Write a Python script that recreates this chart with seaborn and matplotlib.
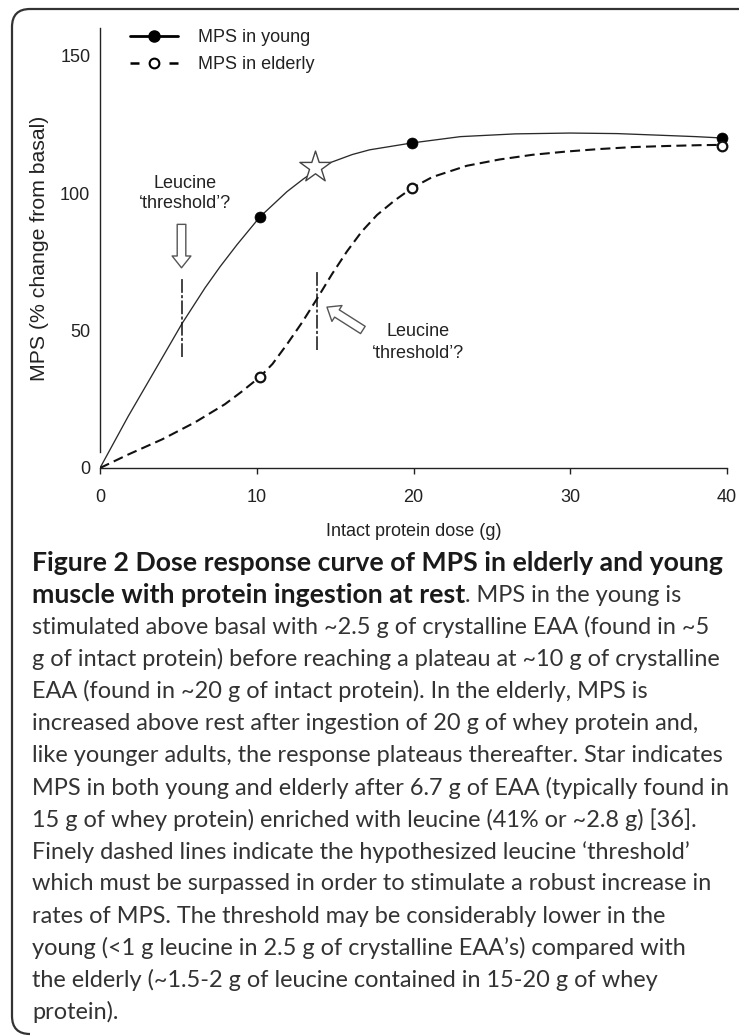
import numpy as np
import pandas as pd
import matplotlib
matplotlib.use("Agg")
import matplotlib.pyplot as plt
import seaborn as sns
from matplotlib.lines import Line2D
from matplotlib.patches import FancyArrowPatch, PathPatch
from matplotlib.path import Path

# ---------------- data ----------------
dose_points = [10.2, 19.9, 39.7]
young_mps = [91.3, 118.2, 120.0]
elderly_mps = [33.1, 101.8, 117.0]

young_curve_x = [0, 1.8, 3.96, 5.23, 6.7, 7.66, 8.74, 10.2, 11.93, 12.95, 13.7, 14.67,
                 16.1, 17.2, 19.9, 23.0, 26.5, 30.0, 33.0, 35.3, 38.0, 39.7]
young_curve_y = [0, 18.8, 40.0, 52.5, 65.5, 73.2, 81.2, 91.3, 100.5, 105.0, 108.0, 111.0,
                 114.0, 115.7, 118.2, 120.5, 121.5, 121.8, 121.6, 121.1, 120.5, 120.0]

elderly_curve_x = [0, 1.8, 3.96, 6.06, 7.97, 9.0, 10.2, 11.0, 11.93, 12.9, 13.84, 14.8,
                   15.76, 16.7, 17.67, 18.8, 19.9, 21.2, 23.4, 25.5, 27.6, 29.8, 31.9,
                   34.0, 36.2, 38.3, 39.7]
elderly_curve_y = [0, 4.9, 10.4, 16.6, 23.2, 27.6, 33.1, 37.8, 45.0, 53.0, 61.5, 70.5,
                   78.8, 86.0, 92.0, 97.3, 101.8, 105.8, 109.9, 112.2, 113.9, 115.1, 116.0,
                   116.7, 117.1, 117.4, 117.5]

star_x, star_y = 13.7, 109.3
young_threshold_x, young_threshold_y = 5.23, (40.5, 69.3)
elderly_threshold_x, elderly_threshold_y = 13.84, (42.9, 71.3)

x_ticks = [0, 10, 20, 30, 40]
y_ticks = [0, 50, 100, 150]
x_label = "Intact protein dose (g)"
y_label = "MPS (% change from basal)"
legend_labels = ["MPS in young", "MPS in elderly"]
annot_text = ["Leucine", "\u2018threshold\u2019?"]

caption_bold_1 = "Figure 2 Dose response curve of MPS in elderly and young"
caption_bold_2 = "muscle with protein ingestion at rest"
caption_rest_2 = ". MPS in the young is"
caption_lines = [
    "stimulated above basal with ~2.5 g of crystalline EAA (found in ~5",
    "g of intact protein) before reaching a plateau at ~10 g of crystalline",
    "EAA (found in ~20 g of intact protein). In the elderly, MPS is",
    "increased above rest after ingestion of 20 g of whey protein and,",
    "like younger adults, the response plateaus thereafter. Star indicates",
    "MPS in both young and elderly after 6.7 g of EAA (typically found in",
    "15 g of whey protein) enriched with leucine (41% or ~2.8 g) [36].",
    "Finely dashed lines indicate the hypothesized leucine \u2018threshold\u2019",
    "which must be surpassed in order to stimulate a robust increase in",
    "rates of MPS. The threshold may be considerably lower in the",
    "young (<1 g leucine in 2.5 g of crystalline EAA\u2019s) compared with",
    "the elderly (~1.5-2 g of leucine contained in 15-20 g of whey",
    "protein).",
]

# ---------------- style ----------------
W, H = 739, 1036
sns.set_theme(style="ticks")
plt.rcParams["font.family"] = ["Liberation Sans", "DejaVu Sans"]
plt.rcParams["axes.edgecolor"] = "#222222"

fig = plt.figure(figsize=(W / 100, H / 100), dpi=100)
fig.patch.set_facecolor("white")

def fx(px):
    return px / W

def fy(py):
    return 1 - py / H

ax_l, ax_r, ax_t, ax_b = 100, 727, 28, 468
ax = fig.add_axes([fx(ax_l), fy(ax_b), (ax_r - ax_l) / W, (ax_b - ax_t) / H])
ax.set_facecolor("white")

# curves
sns.lineplot(x=young_curve_x, y=young_curve_y, sort=False, estimator=None,
             color="#2a2a2a", linewidth=0.95, ax=ax)
sns.lineplot(x=elderly_curve_x, y=elderly_curve_y, sort=False, estimator=None,
             color="#111111", linewidth=1.5, linestyle=(0, (4.8, 2.5)), ax=ax)

# threshold lines (finely dashed)
ax.plot([young_threshold_x] * 2, young_threshold_y, color="#111111", lw=1.1,
        linestyle=(0, (9, 1.5, 2, 1.5)))
ax.plot([elderly_threshold_x] * 2, elderly_threshold_y, color="#111111", lw=1.1,
        linestyle=(0, (9, 1.5, 2, 1.5)))

# data markers
sns.scatterplot(x=dose_points, y=young_mps, color="black", edgecolor="black",
                s=62, linewidth=0.5, zorder=5, clip_on=False, ax=ax)
sns.scatterplot(x=dose_points, y=elderly_mps, color="white", edgecolor="#111111",
                s=48, linewidth=1.6, zorder=6, clip_on=False, ax=ax)
sns.scatterplot(x=[star_x], y=[star_y], marker="*", color="white", edgecolor="#444444",
                s=560, linewidth=1.0, zorder=7, ax=ax)

# hollow arrows
arrow_style = "simple,head_length=0.85,head_width=1.35,tail_width=0.62"
ax.add_patch(FancyArrowPatch((5.2, 88.6), (5.2, 72.8), arrowstyle=arrow_style,
                             mutation_scale=10, fc="white", ec="#555555", lw=1.0,
                             shrinkA=0, shrinkB=0, zorder=8))
ax.add_patch(FancyArrowPatch((16.77, 50.2), (14.48, 58.5), arrowstyle=arrow_style,
                             mutation_scale=10, fc="white", ec="#555555", lw=1.0,
                             shrinkA=0, shrinkB=0, zorder=8))

# annotation texts
txt_kw = dict(fontsize=13, color="#222222", ha="center", va="center")
ax.text(5.42, 103.6, annot_text[0], **txt_kw)
ax.text(5.42, 96.2, annot_text[1], **txt_kw)
ax.text(20.3, 49.5, annot_text[0], **txt_kw)
ax.text(20.3, 41.8, annot_text[1], **txt_kw)

# axes
ax.set_xlim(0, 40)
ax.set_ylim(0, 160)
ax.set_xticks(x_ticks)
ax.set_yticks(y_ticks)
ax.set_xticklabels([str(v) for v in x_ticks])
ax.set_yticklabels([str(v) for v in y_ticks])
ax.tick_params(axis="x", length=4.5, width=1.0, direction="out", pad=10.5,
               labelsize=13, colors="#222222")
ax.tick_params(axis="y", length=0, pad=7, labelsize=13, colors="#222222")
for s in ["top", "right"]:
    ax.spines[s].set_visible(False)
ax.spines["left"].set_bounds(5.8, 160)
ax.spines["left"].set_linewidth(1.0)
ax.spines["bottom"].set_linewidth(1.0)
ax.grid(False)

ax.set_xlabel(x_label, fontsize=13, color="#222222")
ax.xaxis.label.set_va("center")
ax.xaxis.set_label_coords(0.5, (ax_b - 531) / (ax_b - ax_t))
ax.set_ylabel(y_label, fontsize=15.3, color="#222222")
ax.yaxis.label.set_va("center")
ax.yaxis.set_label_coords((40 - ax_l) / (ax_r - ax_l), (ax_b - 248) / (ax_b - ax_t))

# legend
h_young = Line2D([], [], color="black", lw=2.0, marker="o", markersize=8,
                 markerfacecolor="black", markeredgecolor="black")
h_eld = Line2D([], [], color="black", lw=1.8, linestyle=(0, (3.6, 12.0)), marker="o",
               markersize=7, markerfacecolor="white", markeredgecolor="black",
               markeredgewidth=1.5)
leg = ax.legend([h_young, h_eld], legend_labels, loc="upper left",
                bbox_to_anchor=(fx(130), fy(29)), bbox_transform=fig.transFigure,
                frameon=False, fontsize=13, handlelength=2.67, handletextpad=1.1,
                labelspacing=0.55, borderpad=0, borderaxespad=0, numpoints=1)
for t in leg.get_texts():
    t.set_color("#222222")

# frame border (rounded, left/top)
verts = [(fx(30), fy(1034)), (fx(12), fy(1034)), (fx(12), fy(1016)),
         (fx(12), fy(27)), (fx(12), fy(9)), (fx(30), fy(9)), (fx(745), fy(9))]
codes = [Path.MOVETO, Path.CURVE3, Path.CURVE3, Path.LINETO, Path.CURVE3, Path.CURVE3,
         Path.LINETO]
fig.add_artist(PathPatch(Path(verts, codes), transform=fig.transFigure, fill=False,
                         ec="#333333", lw=1.6))

# ---------------- caption ----------------
cap_font = ["Lato", "DejaVu Sans"]
fig.canvas.draw()
renderer = fig.canvas.get_renderer()

def width_of(s, size, weight):
    t = fig.text(0, 0, s, fontsize=size, fontweight=weight, family=cap_font)
    w = t.get_window_extent(renderer).width
    t.remove()
    return w

body_weight = "normal"
body_size = 16 * 680 / width_of(caption_lines[0], 16, body_weight)
bold_size = 16 * 695 / width_of(caption_bold_1, 16, "bold")

x0 = 32
line_y0 = 563
line_step = 32.1
fig.text(fx(x0), fy(line_y0), caption_bold_1, fontsize=bold_size, fontweight="bold",
         family=cap_font, color="#1a1a1a", va="center", ha="left")
tb = fig.text(fx(x0), fy(line_y0 + line_step), caption_bold_2, fontsize=bold_size,
              fontweight="bold", family=cap_font, color="#1a1a1a", va="center", ha="left")
bw = tb.get_window_extent(renderer).width
fig.text(fx(x0 + bw), fy(line_y0 + line_step), caption_rest_2, fontsize=body_size,
         fontweight=body_weight, family=cap_font, color="#333333", va="center", ha="left")
for i, line in enumerate(caption_lines):
    fig.text(fx(x0), fy(line_y0 + (i + 2) * line_step), line, fontsize=body_size,
             fontweight=body_weight, family=cap_font, color="#333333", va="center",
             ha="left")

fig.savefig("out.png", dpi=100, facecolor="white")
